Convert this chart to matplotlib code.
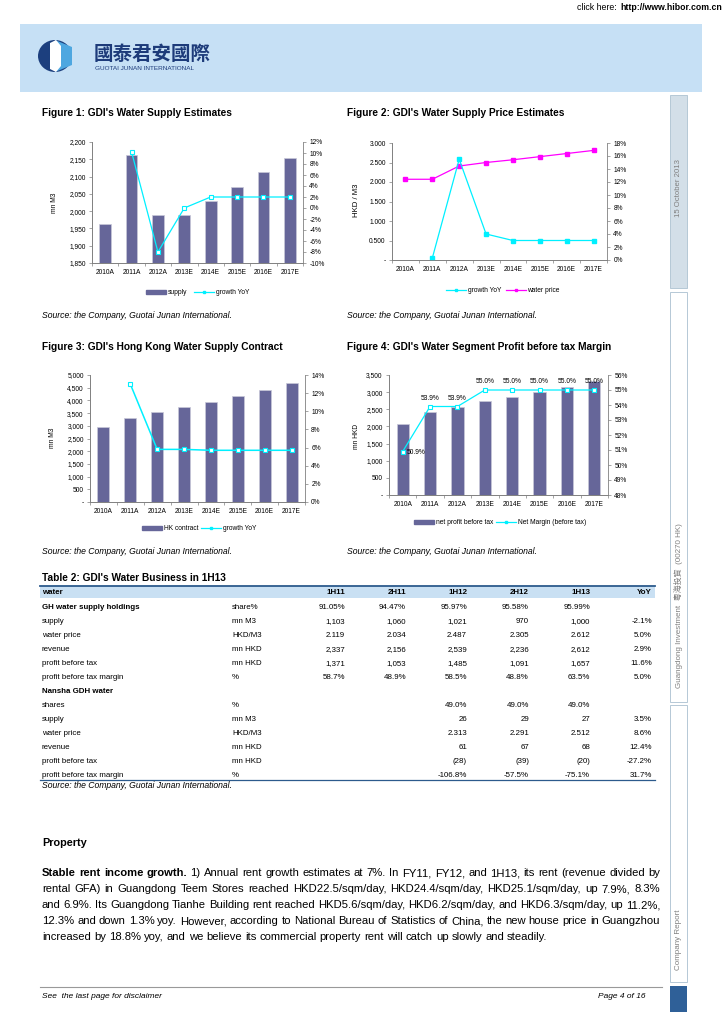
import matplotlib
matplotlib.use('Agg')
import matplotlib.pyplot as plt
import numpy as np
from matplotlib.patches import Rectangle, Ellipse, Polygon
from matplotlib.lines import Line2D

plt.rcParams['font.family'] = ['Liberation Sans', 'Noto Sans CJK TC', 'DejaVu Sans']

W, H = 724, 1024

# ---- chart data ----
years = ['2010A', '2011A', '2012A', '2013E', '2014E', '2015E', '2016E', '2017E']
supply = [1962, 2162, 1990, 1990, 2029, 2070, 2112, 2155]
supply_yoy = [np.nan, 10.2, -8.0, 0.0, 2.0, 2.0, 2.0, 2.0]
price = [2.07, 2.07, 2.41, 2.50, 2.57, 2.65, 2.73, 2.81]
price_yoy = [np.nan, 0.3, 15.5, 4.0, 3.0, 3.0, 3.0, 3.0]
hk_contract = [2935, 3320, 3530, 3725, 3950, 4175, 4400, 4670]
hk_yoy = [np.nan, 13.0, 5.8, 5.8, 5.7, 5.7, 5.7, 5.7]
profit = [2070, 2420, 2565, 2730, 2860, 3005, 3160, 3325]
margin = [50.9, 53.9, 53.9, 55.0, 55.0, 55.0, 55.0, 55.0]

# ---- table data ----
tbl_cols = ['1H11', '2H11', '1H12', '2H12', '1H13', 'YoY']
gh_labels = ['supply', 'water price', 'revenue', 'profit before tax', 'profit before tax margin']
gh_units = ['mn M3', 'HKD/M3', 'mn HKD', 'mn HKD', '%']
gh_share = ['91.05%', '94.47%', '95.97%', '95.58%', '95.99%', '']
gh_vals = [['1,103', '1,060', '1,021', '970', '1,000', '-2.1%'],
           ['2.119', '2.034', '2.487', '2.305', '2.612', '5.0%'],
           ['2,337', '2,156', '2,539', '2,236', '2,612', '2.9%'],
           ['1,371', '1,053', '1,485', '1,091', '1,657', '11.6%'],
           ['58.7%', '48.9%', '58.5%', '48.8%', '63.5%', '5.0%']]
ns_labels = ['shares', 'supply', 'water price', 'revenue', 'profit before tax', 'profit before tax margin']
ns_units = ['%', 'mn M3', 'HKD/M3', 'mn HKD', 'mn HKD', '%']
ns_vals = [['', '', '49.0%', '49.0%', '49.0%', ''],
           ['', '', '26', '29', '27', '3.5%'],
           ['', '', '2.313', '2.291', '2.512', '8.6%'],
           ['', '', '61', '67', '68', '12.4%'],
           ['', '', '(28)', '(39)', '(20)', '-27.2%'],
           ['', '', '-106.8%', '-57.5%', '-75.1%', '31.7%']]

para = ["Stable rent income growth. 1) Annual rent growth estimates at 7%. In FY11, FY12, and 1H13, its rent (revenue divided by",
        "rental GFA) in Guangdong Teem Stores reached HKD22.5/sqm/day, HKD24.4/sqm/day, HKD25.1/sqm/day, up 7.9%, 8.3%",
        "and 6.9%. Its Guangdong Tianhe Building rent reached HKD5.6/sqm/day, HKD6.2/sqm/day, and HKD6.3/sqm/day, up 11.2%,",
        "12.3% and down 1.3% yoy. However, according to National Bureau of Statistics of China, the new house price in Guangzhou",
        "increased by 18.8% yoy, and we believe its commercial property rent will catch up slowly and steadily."]

BAR = '#666699'
CYAN = '#00f0ff'
MAG = '#ff00ff'
GRAY = '#808080'
TS = 4.8


def fx(x):
    return x / W


def fy(y):
    return 1 - y / H


def box(l, t, r, b):
    return [l / W, 1 - b / H, (r - l) / W, (b - t) / H]


fig = plt.figure(figsize=(W / 100, H / 100), dpi=100)
r = fig.canvas.get_renderer()


def txt(x, y, s, **kw):
    kw.setdefault('va', 'center')
    return fig.text(fx(x), fy(y), s, **kw)


def rect(l, t, rr, b, **kw):
    fig.patches.append(Rectangle((fx(l), fy(b)), (rr - l) / W, (b - t) / H,
                                 transform=fig.transFigure, **kw))


def hline(x0, x1, y, **kw):
    fig.lines.append(Line2D([fx(x0), fx(x1)], [fy(y), fy(y)], transform=fig.transFigure, **kw))


def setup(ax, ax2, ylim, yticks, ylab, y2lim, y2ticks, y2lab):
    ax.set_xlim(-0.5, 7.5)
    ax.set_xticks(np.arange(-0.5, 8, 1))
    ax.set_xticklabels([])
    ax.set_xticks(np.arange(8), labels=years, minor=True)
    ax.tick_params(axis='x', which='major', length=2.5, width=0.5, color=GRAY)
    ax.tick_params(axis='x', which='minor', length=0, labelsize=TS, pad=4)
    ax.set_ylim(*ylim)
    ax.set_yticks(yticks, labels=ylab)
    ax.tick_params(axis='y', length=2.5, width=0.5, color=GRAY, labelsize=TS, pad=2)
    ax2.set_ylim(*y2lim)
    ax2.set_yticks(y2ticks, labels=y2lab)
    ax2.tick_params(axis='y', length=2.5, width=0.5, color=GRAY, labelsize=TS, pad=2)
    for a in (ax, ax2):
        a.spines['top'].set_visible(False)
        for s in a.spines.values():
            s.set_color(GRAY)
            s.set_linewidth(0.6)
    ax.spines['right'].set_visible(False)


def num_labels(vals, fmt):
    return ['-' if v == 0 else fmt(v) for v in vals]


x = np.arange(8)

# ---- Figure 1 ----
ax = fig.add_axes(box(92, 142, 303, 263))
ax2 = ax.twinx()
ax.bar(x, supply, width=0.45, color=BAR, edgecolor='#c8c8d8', linewidth=0.5)
ax2.plot(x, supply_yoy, color=CYAN, lw=0.9, marker='s', ms=2.5, mfc='white', mec=CYAN, mew=0.8)
t1 = np.arange(1850, 2201, 50)
t2 = np.arange(-10, 13, 2)
setup(ax, ax2, (1850, 2200), t1, [f'{v:,.0f}' for v in t1], (-10, 12), t2, [f'{v}%' for v in t2])
txt(54, 203, 'mn M3', fontsize=TS, rotation=90, ha='center')
fig.legend([Rectangle((0, 0), 1, 1, color=BAR),
            Line2D([], [], color=CYAN, lw=0.9, marker='s', ms=2)],
           ['supply', 'growth YoY'], loc='center', bbox_to_anchor=(fx(198), fy(293)),
           ncol=2, frameon=False, fontsize=TS, handlelength=3, handleheight=0.6,
           columnspacing=1.0, handletextpad=0.3)

# ---- Figure 2 ----
ax = fig.add_axes(box(392, 143, 607, 260))
ax2 = ax.twinx()
ax.plot(x, price, color=MAG, lw=0.9, marker='s', ms=2.3, mfc=MAG, mec=MAG, zorder=3)
ax2.plot(x, price_yoy, color=CYAN, lw=0.9, marker='s', ms=2.3, mfc=CYAN, mec=CYAN)
t1 = np.arange(0, 3.01, 0.5)
t2 = np.arange(0, 19, 2)
setup(ax, ax2, (0, 3), t1, num_labels(t1, lambda v: f'{v:.3f}'), (0, 18), t2, [f'{v}%' for v in t2])
txt(357, 200, 'HKD / M3', fontsize=5.6, rotation=90, ha='center')
fig.legend([Line2D([], [], color=CYAN, lw=0.9, marker='s', ms=2),
            Line2D([], [], color=MAG, lw=0.9, marker='s', ms=2)],
           ['growth YoY', 'water price'], loc='center', bbox_to_anchor=(fx(503), fy(291)),
           ncol=2, frameon=False, fontsize=TS, handlelength=3,
           columnspacing=0.6, handletextpad=0.3)

# ---- Figure 3 ----
ax = fig.add_axes(box(90, 375, 305, 502))
ax2 = ax.twinx()
ax.bar(x, hk_contract, width=0.45, color=BAR, edgecolor='#c8c8d8', linewidth=0.5)
ax2.plot(x, hk_yoy, color=CYAN, lw=1.1, marker='s', ms=2.5, mfc='white', mec=CYAN, mew=0.8)
t1 = np.arange(0, 5001, 500)
t2 = np.arange(0, 15, 2)
setup(ax, ax2, (0, 5000), t1, num_labels(t1, lambda v: f'{v:,.0f}'), (0, 14), t2, [f'{v}%' for v in t2])
txt(52, 438, 'mn M3', fontsize=TS, rotation=90, ha='center')
fig.legend([Rectangle((0, 0), 1, 1, color=BAR),
            Line2D([], [], color=CYAN, lw=0.9, marker='s', ms=2)],
           ['HK contract', 'growth YoY'], loc='center', bbox_to_anchor=(fx(199), fy(529)),
           ncol=2, frameon=False, fontsize=TS, handlelength=3, handleheight=0.6,
           columnspacing=0.4, handletextpad=0.3)

# ---- Figure 4 ----
ax = fig.add_axes(box(389, 375, 608, 495))
ax2 = ax.twinx()
ax.bar(x, profit, width=0.45, color=BAR, edgecolor='#c8c8d8', linewidth=0.5)
ax2.plot(x, margin, color=CYAN, lw=0.9, marker='s', ms=2.5, mfc='white', mec=CYAN, mew=0.8)
for i, m in enumerate(margin):
    if i == 0:
        ax2.annotate(f'{m:.1f}%', (i, m), xytext=(3, -1), textcoords='offset points',
                     ha='left', va='center', fontsize=TS)
    else:
        ax2.annotate(f'{m:.1f}%', (i, m), xytext=(0, 6), textcoords='offset points',
                     ha='center', va='center', fontsize=TS)
t1 = np.arange(0, 3501, 500)
t2 = np.arange(48, 57, 1)
setup(ax, ax2, (0, 3500), t1, num_labels(t1, lambda v: f'{v:,.0f}'), (48, 56), t2, [f'{v}%' for v in t2])
txt(357, 436, 'mn HKD', fontsize=TS, rotation=90, ha='center')
fig.legend([Rectangle((0, 0), 1, 1, color=BAR),
            Line2D([], [], color=CYAN, lw=0.9, marker='s', ms=2)],
           ['net profit before tax', 'Net Margin (before tax)'], loc='center',
           bbox_to_anchor=(fx(500), fy(523)), ncol=2, frameon=False, fontsize=TS,
           handlelength=3, handleheight=0.6, columnspacing=0.4, handletextpad=0.3)

# ---- page header ----
url = txt(722, 8, 'http://www.hibor.com.cn', fontsize=6.3, weight='bold', ha='right')
uw = url.get_window_extent(r).width
txt(722 - uw - 1, 8, 'click here: ', fontsize=6.3, ha='right')
rect(20, 24, 702, 92, facecolor='#c6e0f5', edgecolor='none')
fig.patches.append(Ellipse((fx(55), fy(56)), 34 / W, 32 / H, transform=fig.transFigure,
                           facecolor='#1c3f7e', edgecolor='none'))
fig.patches.append(Polygon([(fx(55), fy(40)), (fx(72), fy(47)), (fx(72), fy(65)), (fx(55), fy(72))],
                           closed=True, transform=fig.transFigure, facecolor='#4ea7e0', edgecolor='none'))
fig.patches.append(Polygon([(fx(50), fy(43)), (fx(56), fy(40)), (fx(61), fy(46)), (fx(61), fy(66)),
                            (fx(56), fy(72)), (fx(50), fy(69))],
                           closed=True, transform=fig.transFigure, facecolor='white', edgecolor='none'))
txt(94, 54, '國泰君安國際', fontsize=14, weight='bold', color='#1d3b7a',
    family=['Noto Sans CJK TC'])
txt(95, 69, 'GUOTAI JUNAN INTERNATIONAL', fontsize=4.6, color='#1d3b7a')

# ---- right sidebar ----
rect(670, 95, 687, 288, facecolor='#d3dfe8', edgecolor='#b5c8d6', linewidth=0.7)
rect(670, 292, 687, 702, facecolor='white', edgecolor='#b5c8d6', linewidth=0.7)
rect(670, 705, 687, 982, facecolor='white', edgecolor='#b5c8d6', linewidth=0.7)
rect(670, 986, 687, 1012, facecolor='#2f6098', edgecolor='none')
txt(678.5, 188, '15 October 2013', fontsize=5.6, color=GRAY, rotation=90, ha='center')
txt(678.5, 606, 'Guangdong Investment  粵海投資  (00270 HK)', fontsize=5.8, color=GRAY,
    rotation=90, ha='center')
txt(678.5, 940, 'Company Report', fontsize=5.8, color=GRAY, rotation=90, ha='center')

# ---- titles and sources ----
TF = 7.3
SF = 6.2
txt(42, 113, "Figure 1: GDI's Water Supply Estimates", fontsize=TF, weight='bold')
txt(347, 113, "Figure 2: GDI's Water Supply Price Estimates", fontsize=TF, weight='bold')
txt(42, 347, "Figure 3: GDI's Hong Kong Water Supply Contract", fontsize=TF, weight='bold')
txt(347, 347, "Figure 4: GDI's Water Segment Profit before tax Margin", fontsize=TF, weight='bold')
src = 'Source: the Company, Guotai Junan International.'
for sx, sy in [(42, 316), (347, 316), (42, 552), (347, 552), (42, 785)]:
    txt(sx, sy, src, fontsize=SF, style='italic')

# ---- table ----
txt(42, 578, "Table 2: GDI's Water Business in 1H13", fontsize=TF, weight='bold')
rect(40, 586, 655, 598, facecolor='#c9e0f3', edgecolor='none')
hline(40, 655, 586, color='#2c5a8c', lw=1.3)
hline(40, 655, 780, color='#2c5a8c', lw=0.9)
col_r = [345, 406, 467, 529, 590, 652]
FS = 5.7
txt(42, 594, 'water', fontsize=FS, weight='bold', va='baseline')
for c, cx in zip(tbl_cols, col_r):
    txt(cx, 594, c, fontsize=FS, weight='bold', ha='right', va='baseline')

rows = [('GH water supply holdings', 'share%', gh_share, 'bold')]
rows += [(lab, u, v, 'normal') for lab, u, v in zip(gh_labels, gh_units, gh_vals)]
rows += [('Nansha GDH water', '', [''] * 6, 'bold')]
rows += [(lab, u, v, 'normal') for lab, u, v in zip(ns_labels, ns_units, ns_vals)]
for i, (lab, unit, vals, wt) in enumerate(rows):
    ry = 609 + 14 * i
    txt(42, ry, lab, fontsize=FS, weight=wt, va='baseline')
    txt(232, ry, unit, fontsize=FS, va='baseline')
    for v, cx in zip(vals, col_r):
        txt(cx, ry, v, fontsize=FS, ha='right', va='baseline')

# ---- property text ----
txt(42, 843, 'Property', fontsize=7.8, weight='bold')
PF = 8.1
sp = PF * 0.278 * 100 / 72
bold_prefix = 'Stable rent income growth.'
for li, line in enumerate(para):
    ly = 876 + 16 * li
    words = []
    if li == 0:
        words += [(w, 'bold') for w in bold_prefix.split()]
        line = line[len(bold_prefix):]
    words += [(w, 'normal') for w in line.split()]
    objs = [txt(0, ly, w, fontsize=PF, weight=wt, va='baseline') for w, wt in words]
    widths = [o.get_window_extent(r).width for o in objs]
    if li < len(para) - 1:
        gap = max((660 - 42 - sum(widths)) / (len(objs) - 1), sp * 0.5)
    else:
        gap = sp
    cx = 42
    for o, wd in zip(objs, widths):
        o.set_x(fx(cx))
        cx += wd + gap

# ---- footer ----
hline(40, 662, 987, color='#999999', lw=0.8)
txt(42, 996, 'See  the last page for disclaimer', fontsize=6, style='italic')
txt(645, 996, 'Page 4 of 16', fontsize=6, style='italic', ha='right')

fig.savefig('out.png', dpi=100)
